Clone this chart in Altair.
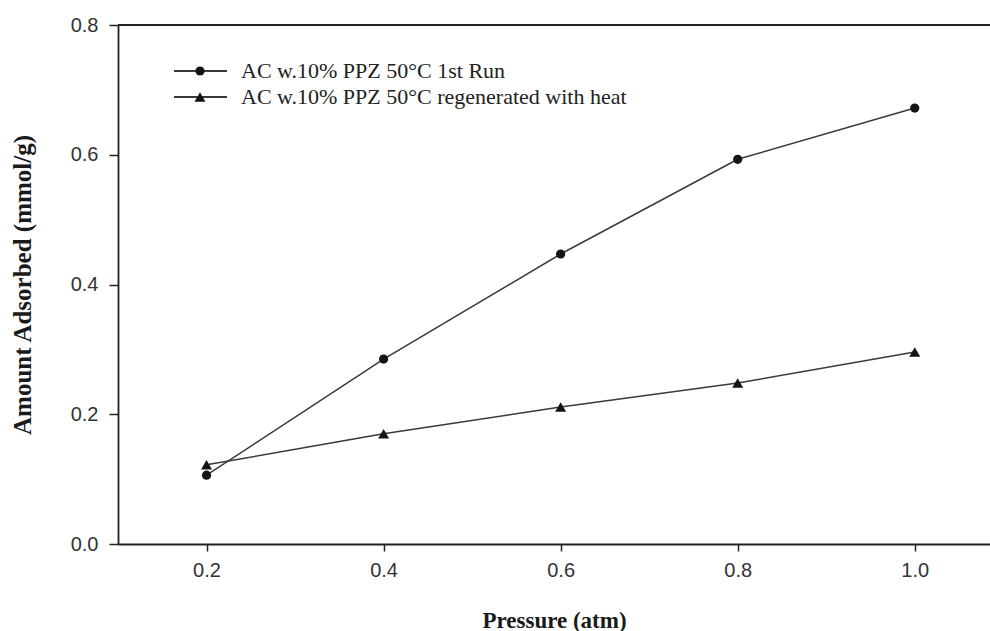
import altair as alt
import pandas as pd

# Adsorption isotherm data: CO2 uptake on activated carbon with 10% PPZ at 50 °C
pressure = [0.2, 0.4, 0.6, 0.8, 1.0]
first_run = [0.106, 0.285, 0.447, 0.593, 0.672]
regenerated = [0.122, 0.170, 0.211, 0.248, 0.296]
series_names = [
    "AC w.10% PPZ 50°C 1st Run",
    "AC w.10% PPZ 50°C regenerated with heat",
]
series_shapes = ["circle", "triangle-up"]
series_sizes = [85, 120]
x_ticks = [0.2, 0.4, 0.6, 0.8, 1.0]
y_ticks = [0.0, 0.2, 0.4, 0.6, 0.8]

rows = []
for name, values in zip(series_names, [first_run, regenerated]):
    for p, v in zip(pressure, values):
        rows.append({"series": name, "pressure": p, "amount": v})
df = pd.DataFrame(rows)

W, H = 872, 519
LINE_COLOR = "#3a3a3a"
MARK_COLOR = "#141414"
SANS = "Liberation Sans"
SERIF = "Liberation Serif"

x_enc = alt.X(
    "pressure:Q",
    scale=alt.Scale(domain=[0.1, 1.085], nice=False, zero=False),
    axis=alt.Axis(
        values=x_ticks, format=".1f", title="Pressure (atm)",
        titleFont=SERIF, titleFontWeight="bold", titleFontSize=23,
        titleColor="#1a1a1a", titleY=76, titleBaseline="middle",
        labelFont=SANS, labelFontSize=20, labelColor="#333333",
        labelPadding=9, tickSize=7, tickColor="#222222", tickWidth=1.5,
        domainColor="#222222", domainWidth=1.8, grid=False,
    ),
)
y_enc = alt.Y(
    "amount:Q",
    scale=alt.Scale(domain=[0, 0.8], nice=False),
    axis=alt.Axis(
        values=y_ticks, format=".1f", title="Amount Adsorbed (mmol/g)",
        titleFont=SERIF, titleFontWeight="bold", titleFontSize=25,
        titleColor="#1a1a1a", titleX=-96, titleY=H / 2, titleAngle=-90,
        titleAlign="center", titleBaseline="middle",
        labelFont=SANS, labelFontSize=20, labelColor="#333333",
        labelPadding=11, tickSize=9, tickColor="#222222", tickWidth=1.5,
        domainColor="#222222", domainWidth=1.8, grid=False,
    ),
)

lines = alt.Chart(df).mark_line(color=LINE_COLOR, strokeWidth=1.5).encode(
    x=x_enc, y=y_enc, detail="series:N"
)
points = alt.Chart(df).mark_point(filled=True, opacity=1, color=MARK_COLOR).encode(
    x="pressure:Q",
    y="amount:Q",
    shape=alt.Shape(
        "series:N",
        scale=alt.Scale(domain=series_names, range=series_shapes),
        legend=None,
    ),
    size=alt.Size(
        "series:N",
        scale=alt.Scale(domain=series_names, range=series_sizes),
        legend=None,
    ),
)

# Top frame line across the plot area
top_rule = alt.Chart(df).mark_rule(color="#222222", strokeWidth=1.8).encode(
    x=alt.value(0), x2=alt.value(W), y=alt.value(0)
)

# Hand-drawn legend: line segment with marker, followed by the label
legend_layers = []
for i, (name, shape, size) in enumerate(zip(series_names, series_shapes, series_sizes)):
    ly = 46 + 26 * i
    legend_df = pd.DataFrame({"label": [name]})
    base = alt.Chart(legend_df)
    legend_layers.append(
        base.mark_rule(color=LINE_COLOR, strokeWidth=1.8).encode(
            x=alt.value(56), x2=alt.value(109), y=alt.value(ly)
        )
    )
    legend_layers.append(
        base.mark_point(filled=True, opacity=1, color=MARK_COLOR, shape=shape, size=size).encode(
            x=alt.value(82), y=alt.value(ly)
        )
    )
    legend_layers.append(
        base.mark_text(align="left", baseline="middle", font=SERIF, fontSize=22,
                       color="#222222").encode(
            x=alt.value(123), y=alt.value(ly), text="label:N"
        )
    )

chart = alt.layer(lines, points, top_rule, *legend_layers).properties(
    width=W,
    height=H,
    autosize=alt.AutoSizeParams(type="none"),
    padding={"left": 118, "top": 25, "right": 0, "bottom": 87},
    background="white",
).configure_view(stroke=None)

chart.save("out.html", embed_options={"renderer": "svg", "actions": False})
